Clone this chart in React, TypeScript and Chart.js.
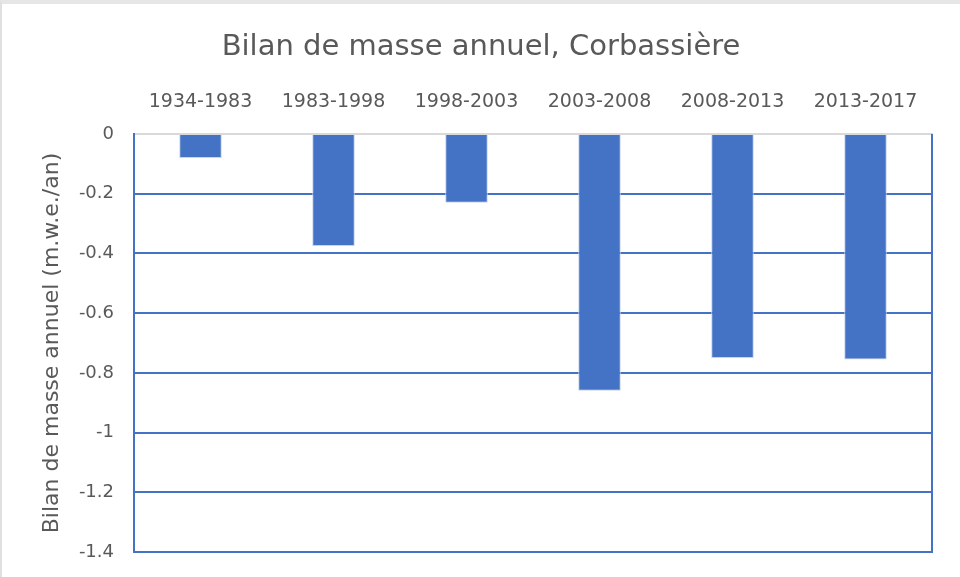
import React, { useEffect, useRef } from "react";
import { Chart, registerables } from "chart.js";

Chart.register(...registerables);

const TITLE = "Bilan de masse annuel, Corbassière";
const Y_TITLE = "Bilan de masse annuel (m.w.e./an)";
const categories = ["1934-1983", "1983-1998", "1998-2003", "2003-2008", "2008-2013", "2013-2017"];
const values = [-0.08, -0.375, -0.23, -0.86, -0.75, -0.755];
const Y_MIN = -1.4;
const Y_MAX = 0;
const Y_STEP = 0.2;

const BLUE = "#4472c4";
const TEXT = "#595959";
const FONT = "'DejaVu Sans', sans-serif";

const rightBorder = {
  id: "rightBorder",
  afterDraw(chart: any) {
    const { ctx, chartArea } = chart;
    ctx.save();
    ctx.strokeStyle = BLUE;
    ctx.lineWidth = 2;
    ctx.beginPath();
    ctx.moveTo(chartArea.right, chartArea.top);
    ctx.lineTo(chartArea.right, chartArea.bottom + 1);
    ctx.stroke();
    ctx.restore();
  },
};

export default function App() {
  const ref = useRef<HTMLCanvasElement>(null);
  useEffect(() => {
    document.body.style.margin = "0";
    const chart = new Chart(ref.current!, {
      type: "bar",
      data: {
        labels: categories,
        datasets: [
          {
            data: values,
            backgroundColor: BLUE,
            borderColor: "#c5d3ee",
            borderWidth: 1,
            categoryPercentage: 1,
            barPercentage: 0.32,
          },
        ],
      },
      options: {
        animation: false,
        responsive: false,
        maintainAspectRatio: false,
        layout: { padding: { left: 0, top: 0, right: 0, bottom: 25 } },
        plugins: {
          legend: { display: false },
          tooltip: { enabled: false },
          title: {
            display: true,
            text: TITLE,
            color: TEXT,
            font: { family: FONT, size: 29, weight: "normal" },
            padding: { top: 26, bottom: 8 },
          },
        },
        scales: {
          x: {
            position: "top",
            grid: { display: false, drawTicks: false },
            border: { display: true, color: "#d9d9d9", width: 2 },
            ticks: {
              color: TEXT,
              font: { family: FONT, size: 19 },
              padding: 21,
              maxRotation: 0,
            },
            afterFit(scale: any) {
              scale.height = 61.2;
            },
          },
          y: {
            min: Y_MIN,
            max: Y_MAX,
            grid: {
              drawTicks: false,
              lineWidth: 2,
              color: (c: any) => (c.tick && c.tick.value === 0 ? "rgba(0,0,0,0)" : BLUE),
            },
            border: { display: true, color: BLUE, width: 2 },
            ticks: {
              stepSize: Y_STEP,
              color: TEXT,
              font: { family: FONT, size: 18 },
              padding: 20,
              callback: (v: any) => String(Number(Number(v).toFixed(1))),
            },
            title: {
              display: true,
              text: Y_TITLE,
              color: TEXT,
              font: { family: FONT, size: 22 },
              padding: { top: 37, bottom: 0 },
            },
            afterFit(scale: any) {
              scale.width = 132;
              scale.paddingBottom = 0;
              scale.paddingTop = 0;
            },
          },
          yRight: {
            type: "linear",
            position: "right",
            min: Y_MIN,
            max: Y_MAX,
            grid: { display: false, drawTicks: false },
            border: { display: false },
            ticks: { display: false },
            afterFit(scale: any) {
              scale.width = 28;
              scale.paddingBottom = 0;
              scale.paddingTop = 0;
            },
          },
        },
      },
      plugins: [rightBorder],
    });
    return () => chart.destroy();
  }, []);
  return (
    <div
      style={{
        width: 960,
        height: 577,
        boxSizing: "border-box",
        borderTop: "4px solid #e6e6e6",
        borderLeft: "2px solid #e0e0e0",
        background: "#fff",
        overflow: "hidden",
      }}
    >
      <canvas ref={ref} width={958} height={573} style={{ display: "block" }} />
    </div>
  );
}
